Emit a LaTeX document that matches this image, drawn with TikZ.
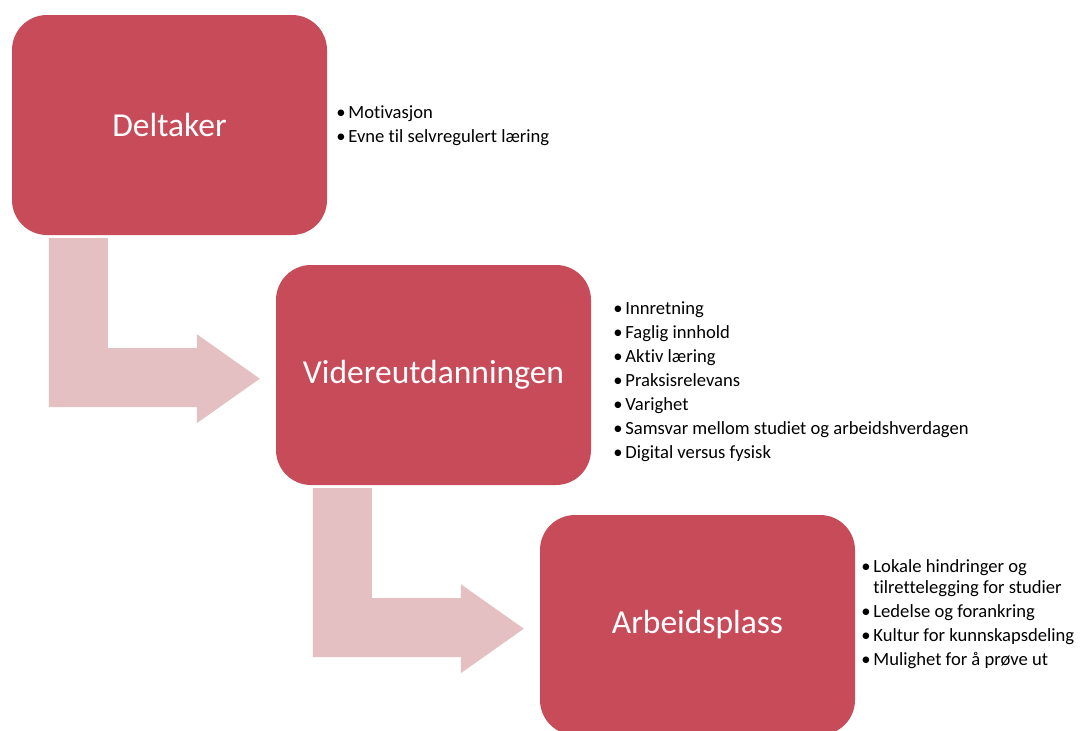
\documentclass[tikz,border=0pt]{standalone}
\usepackage{fontspec}
\setmainfont[Ligatures=NoCommon]{Carlito}
\usetikzlibrary{positioning}
\definecolor{stagered}{HTML}{C84B5A}
\definecolor{flowpink}{HTML}{E4C0C3}
\newcommand{\bul}{\makebox[12pt][l]{•}}

\begin{document}
\begin{tikzpicture}[x=1pt,y=-1pt,
    stage/.style={rectangle, rounded corners=35pt, fill=stagered, text=white,
        minimum width=315pt, minimum height=220pt, font=\fontsize{33.5}{40}\selectfont},
    flow/.style={fill=flowpink},
    notes/.style={align=left, inner sep=0pt, font=\fontsize{18.6}{24}\selectfont}]
    \useasboundingbox (0,0) rectangle (1080,731);

    % the three stages
    \node[stage] (deltaker) at (169.5,125) {Deltaker};
    \node[stage] (videre)   at (433.5,375) {Videreutdanningen};
    \node[stage] (arbeid)   at (697.5,625) {Arbeidsplass};

    % bent arrows between the stages
    \fill[flow, shift={(deltaker.south west)}]
        (37,3) -- (96,3) -- (96,113) -- (185,113) -- (185,99) -- (248,143.5)
        -- (185,188) -- (185,172) -- (37,172) -- cycle;
    \fill[flow, shift={(videre.south west)}]
        (37,3) -- (96,3) -- (96,113) -- (185,113) -- (185,99) -- (248,143.5)
        -- (185,188) -- (185,172) -- (37,172) -- cycle;

    % the lists beside each stage
    \node[notes, right=9pt of deltaker, yshift=-1pt] (deltakerlist) {%
        \bul Motivasjon\\
        \bul Evne til selvregulert læring};
    \node[notes, right=22pt of videre, yshift=-7pt] (viderelist) {%
        \bul Innretning\\
        \bul Faglig innhold\\
        \bul Aktiv læring\\
        \bul Praksisrelevans\\
        \bul Varighet\\
        \bul Samsvar mellom studiet og arbeidshverdagen\\
        \bul Digital versus fysisk};
    \node[notes, right=6pt of arbeid, yshift=11pt] (arbeidlist) {%
        \bul Lokale hindringer og\\[-3pt]
        \hspace*{12pt}tilrettelegging for studier\\
        \bul Ledelse og forankring\\
        \bul Kultur for kunnskapsdeling\\
        \bul Mulighet for å prøve ut};
\end{tikzpicture}
\end{document}
